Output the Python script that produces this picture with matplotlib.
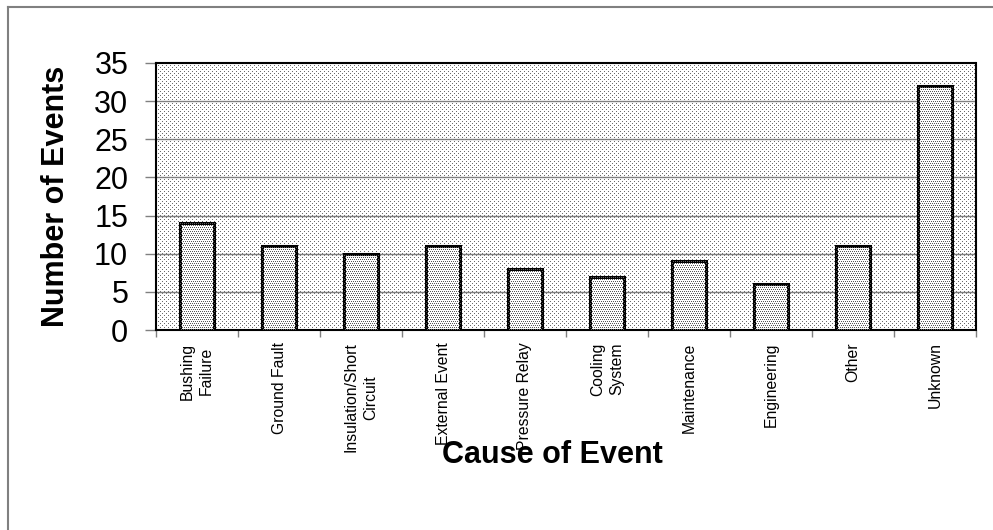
import numpy as np
import matplotlib
matplotlib.use("Agg")
import matplotlib.pyplot as plt
from matplotlib.lines import Line2D

causes = ["Bushing\nFailure", "Ground Fault", "Insulation/Short\nCircuit",
          "External Event", "Pressure Relay", "Cooling\nSystem",
          "Maintenance", "Engineering", "Other", "Unknown"]
events = [14, 11, 10, 11, 8, 7, 9, 6, 11, 32]
y_ticks = [0, 5, 10, 15, 20, 25, 30, 35]

plt.rcParams["font.family"] = ["Liberation Sans", "DejaVu Sans"]

W, H, DPI = 993, 530, 100
fig = plt.figure(figsize=(W / DPI, H / DPI), dpi=DPI)
fig.patch.set_facecolor("white")

# plot area in pixels
px_l, px_r, px_t, px_b = 156, 976, 63, 330
ax = fig.add_axes([px_l / W, 1 - px_b / H, (px_r - px_l) / W, (px_b - px_t) / H])
ax.patch.set_visible(False)
aw, ah = px_r - px_l, px_b - px_t


def stipple(h, w, step, offset, shade, opaque):
    img = np.ones((h, w, 4))
    if not opaque:
        img[..., 3] = 0.0
    rr, cc = np.mgrid[0:h, 0:w]
    mask = (rr % 2 == 0) & (((cc + (rr // 2 % 2) * offset) % step) == 0)
    img[mask, :3] = shade
    img[mask, 3] = 1.0
    return img


x = np.arange(len(causes))

# dotted background of the plotting area, placed pixel-exact behind the axes
bg = stipple(ah, aw, 4, 2, 0.42, True)
fig.figimage(bg, xo=px_l, yo=H - px_b, origin="upper", zorder=-1)

# horizontal grid
for yv in y_ticks[1:-1]:
    ax.axhline(yv, color="#808080", lw=1.0, zorder=1)

bars = ax.bar(x, events, width=0.42, facecolor="white", edgecolor="black",
              linewidth=2.2, zorder=4)

# denser dots inside each bar
fill = stipple(ah, aw, 2, 1, 0.35, False)
for b in bars:
    im = fig.figimage(fill, xo=px_l, yo=H - px_b, origin="upper", zorder=5)
    im.set_clip_path(b)

ax.set_xlim(-0.5, len(causes) - 0.5)
ax.set_ylim(0, 35)

for s in ax.spines.values():
    s.set_linestyle((0, (1, 1)))
    s.set_linewidth(1.5)
    s.set_color("black")

ax.set_yticks(y_ticks)
ax.set_yticklabels([str(v) for v in y_ticks], fontsize=22)
ax.tick_params(axis="y", length=8, width=1, color="#808080", pad=12)

ax.set_xticks(x)
ax.set_xticklabels(causes, rotation=90, fontsize=11.3, linespacing=1.35,
                   ha="center", va="top", multialignment="center")
ax.set_xticks(np.arange(len(causes) + 1) - 0.5, minor=True)
ax.tick_params(axis="x", which="major", length=0, pad=9)
ax.tick_params(axis="x", which="minor", length=5, width=1, color="#808080")

fig.text(56 / W, 1 - 196.5 / H, "Number of Events", rotation=90,
         fontsize=22, fontweight="bold", ha="center", va="center")
fig.text(552.5 / W, 1 - 455 / H, "Cause of Event",
         fontsize=22, fontweight="bold", ha="center", va="center")

# outer frame
fig.add_artist(Line2D([8 / W, 8 / W], [0, 1 - 7 / H], transform=fig.transFigure,
                      color="#808080", lw=1.5))
fig.add_artist(Line2D([8 / W, 1], [1 - 7 / H, 1 - 7 / H], transform=fig.transFigure,
                      color="#808080", lw=1.5))

fig.savefig("out.png", dpi=DPI)
